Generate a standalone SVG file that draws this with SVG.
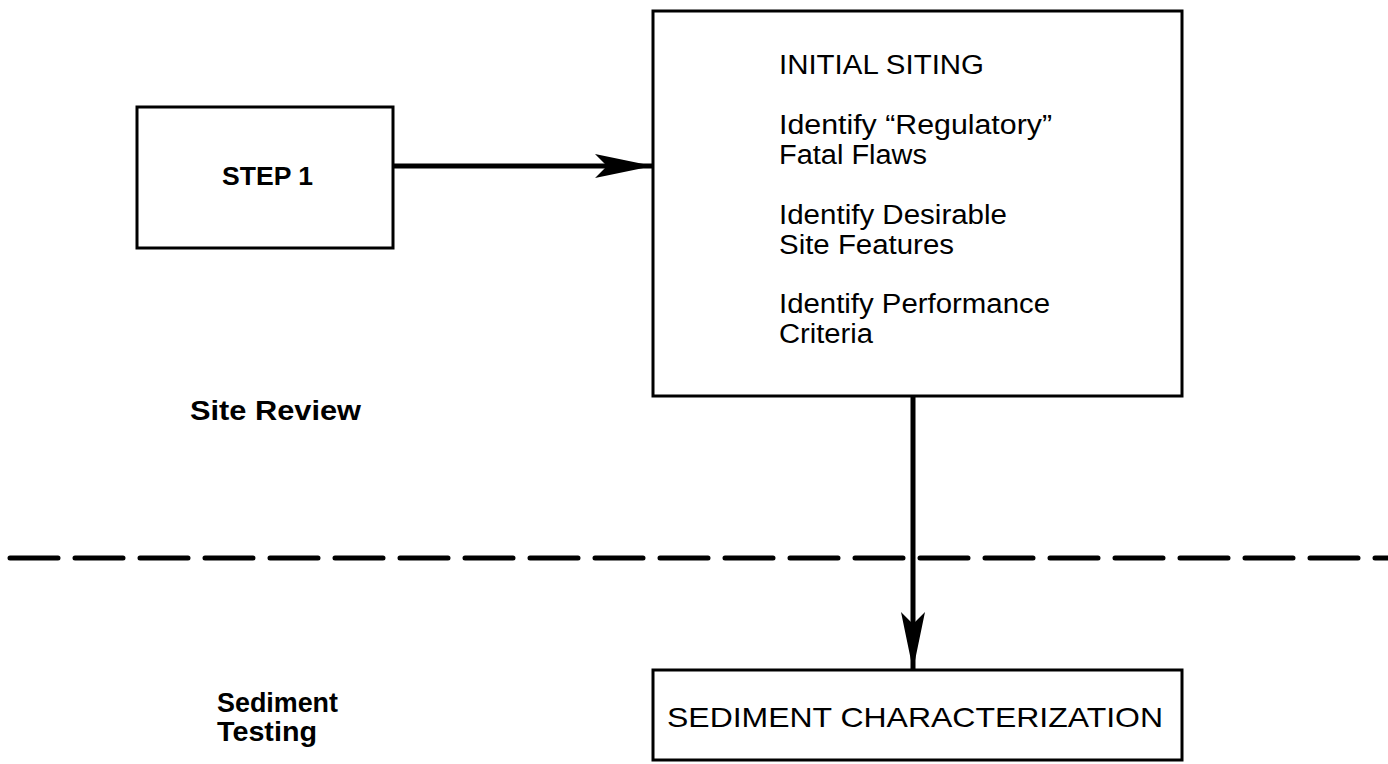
<svg xmlns="http://www.w3.org/2000/svg" width="1388" height="764" viewBox="0 0 1388 764">
<style>
.box{fill:#fff;stroke:#000;stroke-width:3}
.t{font-family:"Liberation Sans",Arial,sans-serif;fill:#000}
.b{font-weight:bold}
.conn{stroke:#000;stroke-width:5;fill:none}
</style>
<defs>
<marker id="ah" markerUnits="userSpaceOnUse" viewBox="0 0 60 26" refX="58" refY="13" markerWidth="60" markerHeight="26" orient="auto">
<path d="M0,1 L58,13 L0,25 L12,13 Z" fill="#000"/>
</marker>
</defs>
<rect width="1388" height="764" fill="#fff"/>
<g id="divider">
<line x1="10" y1="558" x2="1388" y2="558" stroke="#000" stroke-width="5" stroke-linecap="round" stroke-dasharray="48 17"/>
</g>
<g id="connectors">
<line class="conn" x1="393" y1="166" x2="653" y2="166" marker-end="url(#ah)"/>
<line class="conn" x1="913" y1="396" x2="913" y2="670" marker-end="url(#ah)"/>
</g>
<g id="step1">
<rect class="box" x="137" y="107" width="256" height="141"/>
<text class="t b" x="222" y="185" font-size="25" textLength="91" lengthAdjust="spacingAndGlyphs">STEP 1</text>
</g>
<g id="initial-siting">
<rect class="box" x="653" y="11" width="529" height="385" fill="none"/>
<text class="t" x="779" y="74" font-size="27" textLength="205" lengthAdjust="spacingAndGlyphs">INITIAL SITING</text>
<text class="t" x="779" y="134" font-size="27" textLength="273" lengthAdjust="spacingAndGlyphs">Identify “Regulatory”</text>
<text class="t" x="779" y="164" font-size="27" textLength="148" lengthAdjust="spacingAndGlyphs">Fatal Flaws</text>
<text class="t" x="779" y="224" font-size="27" textLength="228" lengthAdjust="spacingAndGlyphs">Identify Desirable</text>
<text class="t" x="779" y="254" font-size="27" textLength="175" lengthAdjust="spacingAndGlyphs">Site Features</text>
<text class="t" x="779" y="313" font-size="27" textLength="271" lengthAdjust="spacingAndGlyphs">Identify Performance</text>
<text class="t" x="779" y="343" font-size="27" textLength="94" lengthAdjust="spacingAndGlyphs">Criteria</text>
</g>
<g id="sediment-characterization">
<rect class="box" x="653" y="670" width="529" height="90"/>
<text class="t" x="667" y="727" font-size="28" textLength="496" lengthAdjust="spacingAndGlyphs">SEDIMENT CHARACTERIZATION</text>
</g>
<g id="label-site-review">
<text class="t b" x="190" y="420" font-size="27" textLength="171" lengthAdjust="spacingAndGlyphs">Site Review</text>
</g>
<g id="label-sediment-testing">
<text class="t b" x="217" y="712" font-size="27" textLength="121" lengthAdjust="spacingAndGlyphs">Sediment</text>
<text class="t b" x="217" y="741" font-size="27" textLength="100" lengthAdjust="spacingAndGlyphs">Testing</text>
</g>
</svg>
